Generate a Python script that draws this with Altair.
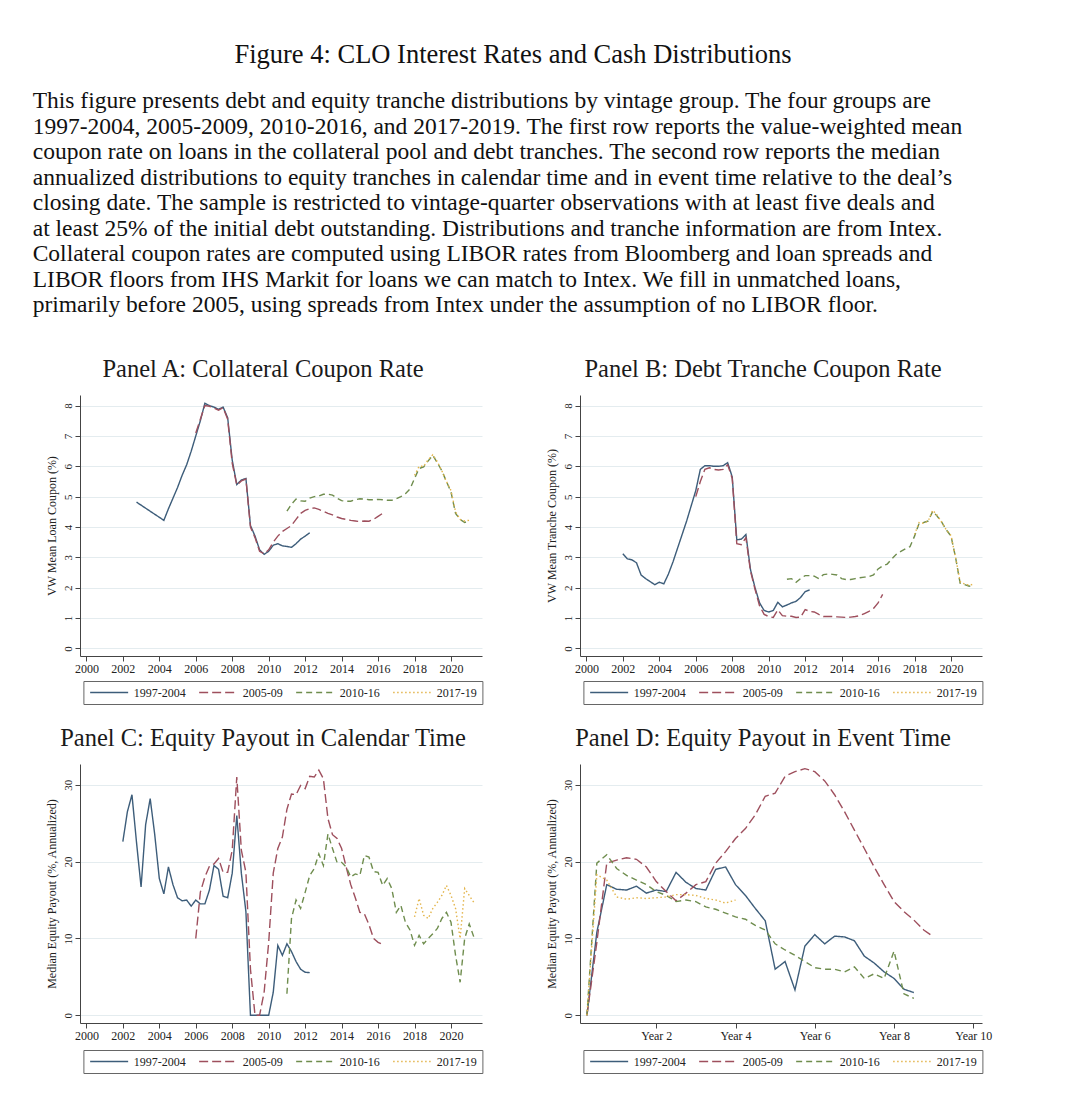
import altair as alt
import pandas as pd

FONT = "Liberation Serif"

SERIES = ["1997-2004", "2005-09", "2010-16", "2017-19"]
COLORS = ["#3d5d7a", "#9e4f5d", "#6f8d4e", "#e3b54c"]
DASHES = [[1, 0], [9, 4], [6, 4], [1.5, 2.5]]

FIG_TITLE = "Figure 4: CLO Interest Rates and Cash Distributions"
PARAGRAPH = [
    "This figure presents debt and equity tranche distributions by vintage group. The four groups are",
    "1997-2004, 2005-2009, 2010-2016, and 2017-2019. The first row reports the value-weighted mean",
    "coupon rate on loans in the collateral pool and debt tranches. The second row reports the median",
    "annualized distributions to equity tranches in calendar time and in event time relative to the deal\u2019s",
    "closing date. The sample is restricted to vintage-quarter observations with at least five deals and",
    "at least 25% of the initial debt outstanding. Distributions and tranche information are from Intex.",
    "Collateral coupon rates are computed using LIBOR rates from Bloomberg and loan spreads and",
    "LIBOR floors from IHS Markit for loans we can match to Intex. We fill in unmatched loans,",
    "primarily before 2005, using spreads from Intex under the assumption of no LIBOR floor.",
]

PANEL_TITLES = [
    "Panel A: Collateral Coupon Rate",
    "Panel B: Debt Tranche Coupon Rate",
    "Panel C: Equity Payout in Calendar Time",
    "Panel D: Equity Payout in Event Time",
]
Y_TITLES = [
    "VW Mean Loan Coupon (%)",
    "VW Mean Tranche Coupon (%)",
    "Median Equity Payout (%, Annualized)",
    "Median Equity Payout (%, Annualized)",
]

YEAR_TICKS = [2000, 2002, 2004, 2006, 2008, 2010, 2012, 2014, 2016, 2018, 2020]
EVENT_TICKS = [2, 4, 6, 8, 10]
RATE_TICKS = [0, 1, 2, 3, 4, 5, 6, 7, 8]
PAYOUT_TICKS = [0, 10, 20, 30]

# ---- Panel A: collateral coupon (quarterly, calendar time)
a_blue_pre_x = [2002.75]
a_blue_pre = [4.82]
a_blue_start = 2004.25
a_blue = [4.22, 4.6, 4.95, 5.3, 5.7, 6.05, 6.5, 7.0, 7.5, 8.08, 8.0, 7.95, 7.88, 7.95, 7.6, 6.2,
          5.4, 5.55, 5.6, 4.05, 3.7, 3.25, 3.1, 3.2, 3.4, 3.45, 3.38, 3.36, 3.33, 3.45, 3.6, 3.7, 3.81]
a_red_start = 2006.0
a_red = [7.1, 7.55, 8.0, 7.98, 7.92, 7.85, 7.93, 7.55, 6.1, 5.38, 5.52, 5.58, 4.0, 3.65, 3.2, 3.12,
         3.25, 3.5, 3.7, 3.85, 3.95, 4.05, 4.25, 4.45, 4.55, 4.6, 4.63, 4.58, 4.52, 4.45, 4.4, 4.33,
         4.28, 4.25, 4.22, 4.2, 4.18, 4.2, 4.19, 4.25, 4.35, 4.45]
a_green_start = 2011.0
a_green = [4.52, 4.75, 4.92, 4.86, 4.85, 4.95, 5.0, 5.02, 5.08, 5.08, 5.05, 4.95, 4.87, 4.85, 4.85,
           4.9, 4.93, 4.92, 4.9, 4.9, 4.91, 4.9, 4.88, 4.88, 4.93, 5.0, 5.1, 5.25, 5.6, 5.93, 5.98,
           6.18, 6.36, 6.12, 5.85, 5.5, 5.15, 4.45, 4.25, 4.15, 4.2]
a_yellow_start = 2018.0
a_yellow = [5.7, 6.0, 6.0, 6.22, 6.38, 6.15, 5.85, 5.5, 5.2, 4.5, 4.25, 4.2, 4.22]

# ---- Panel B: debt tranche coupon
b_blue_start = 2002.0
b_blue = [3.12, 2.95, 2.92, 2.82, 2.42, 2.3, 2.2, 2.1, 2.18, 2.13, 2.45, 2.85, 3.3, 3.75, 4.2, 4.7,
          5.2, 5.9, 6.02, 6.02, 6.0, 6.0, 6.02, 6.12, 5.65, 3.58, 3.6, 3.75, 2.6, 2.0, 1.5, 1.25,
          1.2, 1.25, 1.52, 1.37, 1.43, 1.5, 1.55, 1.68, 1.87, 1.93]
b_red_start = 2006.0
b_red = [5.0, 5.5, 5.9, 5.95, 5.9, 5.88, 5.9, 6.05, 5.6, 3.45, 3.42, 3.65, 2.55, 1.95, 1.4, 1.12,
         1.05, 1.02, 1.27, 1.08, 1.06, 1.06, 1.02, 1.03, 1.28, 1.22, 1.2, 1.12, 1.05, 1.05, 1.05,
         1.04, 1.03, 1.02, 1.03, 1.05, 1.08, 1.15, 1.22, 1.32, 1.5, 1.78]
b_green_start = 2011.0
b_green = [2.28, 2.3, 2.18, 2.3, 2.4, 2.4, 2.38, 2.3, 2.43, 2.45, 2.44, 2.42, 2.3, 2.27, 2.27, 2.3,
           2.33, 2.35, 2.37, 2.42, 2.62, 2.72, 2.78, 2.95, 3.1, 3.2, 3.28, 3.35, 3.7, 4.12, 4.15,
           4.2, 4.52, 4.35, 4.15, 3.9, 3.7, 3.0, 2.15, 2.1, 2.05, 2.1]
b_yellow_start = 2018.0
b_yellow = [3.75, 4.15, 4.12, 4.2, 4.55, 4.38, 4.15, 3.9, 3.72, 3.0, 2.2, 2.12, 2.08, 2.12]

# ---- Panel C: equity payout, calendar time
c_blue_start = 2002.0
c_blue = [22.6, 26.5, 28.7, 22.5, 16.7, 24.8, 28.2, 23.5, 17.8, 15.8, 19.3, 17.0, 15.3, 14.9, 15.0,
          14.2, 15.0, 14.5, 14.5, 16.3, 19.5, 19.0, 15.5, 15.3, 18.5, 26.0, 18.5, 13.5, 0, 0, 0, 0,
          0, 3.0, 9.1, 7.8, 9.3, 8.3, 7.0, 6.0, 5.6, 5.55]
c_red_start = 2006.0
c_red = [10.0, 16.0, 18.0, 19.4, 19.7, 20.4, 18.6, 18.6, 21.5, 31.0, 21.5, 18.6, 6.0, 0, 0, 3.0,
         9.5, 18.5, 21.7, 23.2, 26.8, 28.8, 28.7, 29.9, 29.5, 31.1, 31.0, 31.9, 30.8, 25.6, 23.5,
         23.0, 21.7, 19.3, 17.0, 15.3, 13.4, 13.2, 11.8, 10.0, 9.5, 9.2]
c_green_start = 2011.0
c_green = [2.8, 12.6, 15.0, 13.9, 16.0, 18.2, 19.1, 21.0, 19.5, 23.6, 21.7, 19.9, 19.9, 19.3, 18.0,
           18.4, 18.2, 20.8, 20.6, 18.7, 18.6, 16.9, 17.8, 16.5, 13.4, 14.3, 12.1, 11.1, 9.1, 10.4,
           9.3, 10.0, 10.6, 11.3, 12.6, 13.4, 12.1, 7.8, 4.3, 10.0, 11.9, 10.2]
c_yellow_start = 2018.0
c_yellow = [12.8, 15.2, 13.0, 12.6, 13.9, 14.7, 15.6, 16.9, 15.6, 13.9, 10.0, 16.5, 15.6, 14.7]

# ---- Panel D: equity payout, event time (quarters since closing, from quarter 1)
d_blue = [0, 10.8, 17.0, 16.4, 16.3, 16.8, 15.9, 16.3, 16.1, 18.6, 17.3, 16.5, 16.3, 19.0, 19.3,
          17.0, 15.6, 13.9, 12.3, 6.0, 7.0, 3.3, 9.0, 10.5, 9.3, 10.3, 10.2, 9.7, 7.7, 6.8, 5.65,
          4.8, 3.4, 2.96]
d_red = [0, 9.5, 19.8, 20.2, 20.5, 20.3, 19.3, 17.4, 16.1, 14.9, 15.9, 17.0, 17.4, 19.8, 21.3,
         23.0, 24.3, 26.1, 28.5, 28.9, 31.1, 31.7, 32.1, 31.7, 30.5, 28.7, 26.5, 24.1, 21.7, 19.3,
         17.0, 14.8, 13.5, 12.4, 11.1, 10.2]
d_green = [0, 19.8, 20.9, 19.1, 18.2, 17.6, 17.0, 16.1, 15.6, 14.8, 15.0, 14.8, 14.1, 13.8, 13.3,
           12.8, 12.5, 11.7, 11.1, 9.3, 8.5, 7.8, 7.0, 6.2, 6.0, 6.0, 5.65, 6.3, 4.8, 5.4, 4.8,
           8.35, 2.8, 2.2]
d_yellow = [0, 18.3, 17.6, 15.4, 15.1, 15.3, 15.2, 15.3, 15.4, 15.7, 15.7, 15.6, 15.2, 15.0, 14.6,
            15.0]


def quarterly(start, vals):
    return [start + 0.25 * i for i in range(len(vals))]


def frame(parts):
    rows = []
    for name, xs, ys in parts:
        for x, y in zip(xs, ys):
            rows.append({"x": x, "y": y, "series": name})
    return pd.DataFrame(rows)


df_a = frame([
    (SERIES[0], a_blue_pre_x + quarterly(a_blue_start, a_blue), a_blue_pre + a_blue),
    (SERIES[1], quarterly(a_red_start, a_red), a_red),
    (SERIES[2], quarterly(a_green_start, a_green), a_green),
    (SERIES[3], quarterly(a_yellow_start, a_yellow), a_yellow),
])
df_b = frame([
    (SERIES[0], quarterly(b_blue_start, b_blue), b_blue),
    (SERIES[1], quarterly(b_red_start, b_red), b_red),
    (SERIES[2], quarterly(b_green_start, b_green), b_green),
    (SERIES[3], quarterly(b_yellow_start, b_yellow), b_yellow),
])
df_c = frame([
    (SERIES[0], quarterly(c_blue_start, c_blue), c_blue),
    (SERIES[1], quarterly(c_red_start, c_red), c_red),
    (SERIES[2], quarterly(c_green_start, c_green), c_green),
    (SERIES[3], quarterly(c_yellow_start, c_yellow), c_yellow),
])
df_d = frame([
    (SERIES[0], quarterly(0.25, d_blue), d_blue),
    (SERIES[1], quarterly(0.25, d_red), d_red),
    (SERIES[2], quarterly(0.25, d_green), d_green),
    (SERIES[3], quarterly(0.25, d_yellow), d_yellow),
])

W = 402
LINE_SYMBOL = "M-4,0H4"   # long horizontal stroke for the legend key


def legend():
    return alt.Legend(
        title=None, orient="none", legendX=3.4, legendY=286, direction="horizontal",
        symbolType=LINE_SYMBOL, symbolSize=90.25, symbolStrokeWidth=1.3, symbolOffset=14.25,
        labelFont=FONT, labelFontSize=12, labelColor="#222", labelOffset=18.5,
        strokeColor="#666", padding=5.5, columnPadding=10, fillColor="white",
    )


def panel(df, ytitle, ydomain, yticks, xdomain, xticks, height, label_expr=None):
    xaxis_kw = dict(values=xticks, grid=False, title=None, labelFontSize=12,
                    labelPadding=2, labelFlush=False, format="d")
    if label_expr:
        xaxis_kw["labelExpr"] = label_expr
    return alt.Chart(df).mark_line(strokeWidth=1.4).encode(
        x=alt.X("x:Q", scale=alt.Scale(domain=xdomain, nice=False, zero=False),
                axis=alt.Axis(**xaxis_kw)),
        y=alt.Y("y:Q", scale=alt.Scale(domain=ydomain, nice=False, zero=False),
                axis=alt.Axis(values=yticks, title=ytitle, grid=True, labelAngle=270,
                              labelAlign="center", labelBaseline="bottom", labelFontSize=11,
                              labelPadding=2, titlePadding=4, titleFontSize=12)),
        color=alt.Color("series:N", scale=alt.Scale(domain=SERIES, range=COLORS), legend=legend()),
        strokeDash=alt.StrokeDash("series:N", scale=alt.Scale(domain=SERIES, range=DASHES),
                                  legend=legend()),
    ).properties(width=W, height=height)


def panel_title(text):
    return alt.Chart(pd.DataFrame({"t": [text]})).mark_text(
        align="center", baseline="alphabetic", font=FONT, fontSize=24.5, color="#1a1a1a"
    ).encode(x=alt.value(W / 2 - 18), y=alt.value(-18), text="t:N")


YEAR_DOMAIN = [1999.65, 2021.7]
lines_a = panel(df_a, Y_TITLES[0], [-0.25, 8.35], RATE_TICKS, YEAR_DOMAIN, YEAR_TICKS, 261)
lines_b = panel(df_b, Y_TITLES[1], [-0.25, 8.35], RATE_TICKS, YEAR_DOMAIN, YEAR_TICKS, 261)
lines_c = panel(df_c, Y_TITLES[2], [-1, 32.7], PAYOUT_TICKS, YEAR_DOMAIN, YEAR_TICKS, 259)
lines_d = panel(df_d, Y_TITLES[3], [-1, 32.7], PAYOUT_TICKS, [0.075, 10.22],
                EVENT_TICKS, 259, label_expr="'Year ' + datum.value")

# header text (figure title + caption), drawn above panel A's plot area
text_df = pd.DataFrame({"i": list(range(len(PARAGRAPH))), "line": PARAGRAPH})
para = alt.Chart(text_df).mark_text(
    align="left", baseline="alphabetic", font=FONT, fontSize=23.5, color="#111"
).encode(
    x=alt.value(-47.3),
    y=alt.Y("i:Q", scale=alt.Scale(domain=[0, len(PARAGRAPH) - 1], range=[-287, -83]), axis=None),
    text="line:N",
)
head = alt.Chart(pd.DataFrame({"t": [FIG_TITLE]})).mark_text(
    align="center", baseline="alphabetic", font=FONT, fontSize=26.5, color="#111"
).encode(x=alt.value(433), y=alt.value(-332), text="t:N")

pa = alt.layer(lines_a, panel_title(PANEL_TITLES[0]), head, para).resolve_scale(y="independent")
pb = alt.layer(lines_b, panel_title(PANEL_TITLES[1]))
pc = alt.layer(lines_c, panel_title(PANEL_TITLES[2]))
pd_ = alt.layer(lines_d, panel_title(PANEL_TITLES[3]))

chart = alt.concat(
    pa, pb, pc, pd_, columns=2, spacing={"row": 108, "column": 98}, bounds="flush"
).resolve_scale(
    color="independent", strokeDash="independent", x="independent", y="independent"
).properties(
    padding={"left": 24, "top": 34, "right": 5, "bottom": 5},
    background="white",
).configure_view(stroke=None).configure_axis(
    labelFont=FONT, titleFont=FONT, labelColor="#222", titleColor="#222",
    titleFontWeight="normal", domainColor="#444", tickColor="#444", tickSize=5,
    gridColor="#e4ecef", gridWidth=1,
)

chart.save("out.html", embed_options={"renderer": "svg", "actions": False})
